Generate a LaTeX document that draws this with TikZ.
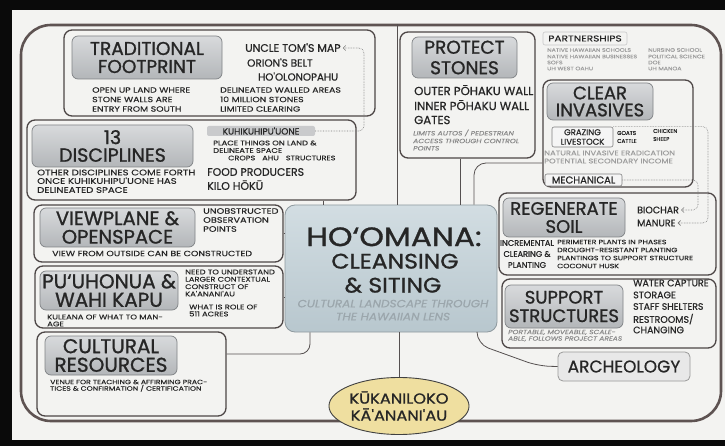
\documentclass[tikz,border=0pt]{standalone}
\usepackage{fontspec}
\setmainfont{Poppins}
\newfontfamily\fsm{Poppins}[FakeStretch=1.25, FakeBold=0.25]
\newfontfamily\fmd{Poppins}[FakeBold=0.7]
\newfontfamily\ftl{Poppins}[FakeBold=1.1]
\newfontfamily\fcn{Poppins}[FakeStretch=1.12, FakeBold=1.1]
\newfontfamily\fcnw{Poppins}[FakeStretch=1.18, FakeBold=1.1]
\newfontfamily\fsub{Poppins}[FakeStretch=1.15, FakeBold=0.5]
\usetikzlibrary{shapes.geometric,arrows.meta,calc}
\definecolor{bgblack}{HTML}{0A0A0A}
\definecolor{poster}{HTML}{F3F3F1}
\definecolor{framec}{HTML}{5E5352}
\definecolor{boxc}{HTML}{4D4646}
\definecolor{ink}{HTML}{262626}
\definecolor{ttltop}{HTML}{D8DADC}
\definecolor{ttlbot}{HTML}{B3B6B9}
\definecolor{ttlc}{HTML}{7F8285}
\definecolor{centop}{HTML}{D2DDE2}
\definecolor{cenbot}{HTML}{B8C7CE}
\definecolor{cenc}{HTML}{8E999E}
\definecolor{subtle}{HTML}{9BA6AC}
\definecolor{grayit}{HTML}{8A8A8A}
\definecolor{light}{HTML}{8C8C8C}
\definecolor{ellfill}{HTML}{EFDFA0}
\definecolor{conc}{HTML}{555050}
\definecolor{dotc}{HTML}{7A7A7A}
\definecolor{hlfill}{HTML}{C9CACC}
\newcommand\mkbox[7]{\node[#1, minimum width={(#5-#3)*1pt}, minimum height={(#6-#4)*1pt}] (#2) at ({(#3+#5)/2},{(#4+#6)/2}) {#7};}
\begin{document}
\begin{tikzpicture}[x=1pt,y=-1pt,
  frame/.style={draw=framec, line width=2.6pt, rounded corners=30pt},
  grp/.style={draw=boxc, line width=1.3pt, rounded corners=8pt, fill=poster},
  ttl/.style 2 args={draw=ttlc, line width=0.7pt, rounded corners=6pt, top color=ttltop, bottom color=ttlbot, align=center, text=ink, inner sep=0pt, font=\ftl\fontsize{#1}{#2}\selectfont},
  cbox/.style={draw=cenc, line width=0.8pt, rounded corners=10pt, top color=centop, bottom color=cenbot},
  lbl/.style={draw=black!22, line width=0.6pt, rounded corners=2pt, inner sep=0pt, text=ink, font=\fsm\fontsize{8.5}{9}\selectfont},
  sub/.style={draw=black!50, line width=0.6pt, rounded corners=2pt, inner sep=0pt, fill=white!96!black, align=center, text=ink, font=\fmd\fontsize{8.5}{9.5}\selectfont},
  hl/.style={fill=hlfill, rounded corners=2pt, inner sep=0pt, text=ink, font=\fmd\fontsize{9}{10}\selectfont},
  archbox/.style={draw=black!40, line width=0.8pt, rounded corners=5pt, fill=black!9, inner sep=0pt, text=ink, font=\fmd\fontsize{17}{18}\selectfont},
  tx/.style={inner sep=0pt, text depth=0pt, anchor=west, text=ink},
  md/.style={tx, font=\fmd\fontsize{#1}{#1}\selectfont, text height=0.7*#1pt},
  sm/.style={tx, font=\fsm\fontsize{#1}{#1}\selectfont, text height=0.7*#1pt},
  tn/.style={tx, font=\fmd\fontsize{#1}{#1}\selectfont, text height=0.7*#1pt},
  lt/.style={sm=#1, text=light!85},
  ism/.style={tx, font=\fsm\itshape\fontsize{#1}{#1}\selectfont, text height=0.7*#1pt, text=grayit},
  ctx/.style={inner sep=0pt, text depth=0pt, text height=0.72*#1pt},
  conn/.style={draw=conc, line width=0.8pt},
  dotarrow/.style={draw=dotc, line width=0.6pt, densely dotted, rounded corners=5pt, -{Straight Barb[length=2.5pt,width=5pt]}}
]
\useasboundingbox (0,0) rectangle (725,446);
\fill[bgblack] (0,0) rectangle (725,446);
\fill[poster] (12,10) rectangle (725,440);

% outer frame
\mkbox{frame}{frm}{21}{25}{721}{421}{}

% connector anchor coordinates
\coordinate (k1) at (323,0);
\coordinate (k2) at (397,0);
\coordinate (k3) at (460,0);
\coordinate (k4) at (474,0);
\coordinate (k4b) at (0,163);
\coordinate (k7) at (310,0);
\coordinate (k7b) at (0,354);
\coordinate (k9) at (477,0);
\coordinate (k9c) at (477,344);
\coordinate (k9d) at (538,366);
\coordinate (kd1) at (364,0);
\coordinate (kb) at (698,0);
\coordinate (km) at (708,0);

% groups
\mkbox{grp}{tf}{64}{30}{375}{116}{}
\mkbox{grp}{dis}{27}{120}{356}{200}{}
\mkbox{grp}{vp}{34}{205}{283}{262}{}
\mkbox{grp}{ph}{35}{266}{283}{328}{}
\mkbox{grp}{cr}{37}{332}{226}{416}{}
\mkbox{grp}{ps}{400}{32}{535}{158}{}
\mkbox{grp}{ci}{543}{80}{693}{187}{}
\mkbox{grp}{rs}{499}{193}{716}{275}{}
\mkbox{grp}{ss}{502}{279}{716}{348}{}
\mkbox{cbox}{cen}{285}{205}{497}{332}{}
\mkbox{archbox}{arc}{558}{352}{690}{381}{ARCHEOLOGY}

% connectors
\draw[conn] (k1 |- dis.south) -- (k1 |- cen.north);
\draw[conn] (k2 |- cen.north) -- (k2 |- frm.north);
\draw[conn] (k3 |- ps.south) -- (k3 |- cen.north);
\draw[conn, rounded corners=12pt] (k4 |- cen.north) |- (ci.west |- k4b);
\draw[conn] (vp.east) -- (cen.west |- vp.east);
\draw[conn] (ph.east) -- (cen.west |- ph.east);
\draw[conn, rounded corners=10pt] (k7 |- cen.south) |- (cr.east |- k7b);
\draw[conn, rounded corners=12pt] (k9 |- cen.south) -- (k9c) -- (k9d) -- (arc.west);

% ellipse
\node[ellipse, draw=black!75, line width=0.9pt, fill=ellfill, minimum width=118pt, minimum height=57pt, inner sep=0pt, align=center, text=ink, font=\fcn\fontsize{14.5}{17}\selectfont] (ell) at (399,406) {KŪKANILOKO\\KĀ'ANANI'AU};
\draw[conn] (ell.north) -- (ell.north |- cen.south);

% title boxes
\mkbox{ttl={18.5}{18}}{tfT}{72}{36}{222}{79}{TRADITIONAL\\FOOTPRINT}
\mkbox{ttl={19}{17.6}}{disT}{32}{125}{193}{167}{13\\DISCIPLINES}
\mkbox{ttl={19.5}{18.5}}{vpT}{40}{208}{195}{247}{VIEWPLANE \&\\OPENSPACE}
\mkbox{ttl={20}{18.5}}{phT}{40}{271}{178}{310}{PU‘UHONUA \&\\WAHI KAPU}
\mkbox{ttl={20}{18.6}}{crT}{45}{336}{177}{375}{CULTURAL\\RESOURCES}
\mkbox{ttl={18.5}{20.5}}{psT}{412}{37}{517}{78}{PROTECT\\STONES}
\mkbox{ttl={18}{17}}{ciT}{547}{83}{653}{120}{CLEAR\\INVASIVES}
\mkbox{ttl={18}{18}}{rsT}{503}{198}{625}{237}{REGENERATE\\SOIL}
\mkbox{ttl={18}{18.5}}{ssT}{505}{285}{623}{328}{SUPPORT\\STRUCTURES}
\mkbox{lbl}{part}{543}{32}{627}{45}{PARTNERSHIPS}
\mkbox{sub}{graz}{552}{127}{613}{147}{GRAZING\\LIVESTOCK}
\mkbox{sub}{mech}{545}{174}{622}{186}{\fontsize{10}{10}\selectfont MECHANICAL}
\mkbox{hl}{kuhi}{207}{126}{315}{136}{KUHIKUHIPU'UONE}

% traditional footprint texts
\node[md=11] (utm) at (245,48) {UNCLE TOM'S MAP};
\node[md=10.5] (orb) at (247,63) {ORION'S BELT};
\node[md=10.3] (hoo) at (258,77) {HO'OLONOPAHU};
\node[sm=7.5] (tf1) at (92,90) {OPEN UP LAND WHERE};
\node[sm=7.5] (tf2) at (92,99.5) {STONE WALLS ARE};
\node[sm=7.5] (tf3) at (92,109) {ENTRY FROM SOUTH};
\node[sm=7.5] (tf4) at (220,90) {DELINEATED WALLED AREAS};
\node[sm=7.5] (tf5) at (220,99.5) {10 MILLION STONES};
\node[sm=7.5] (tf6) at (220,109) {LIMITED CLEARING};

% disciplines texts
\node[sm=6.7] (d1) at (213,143) {PLACE THINGS ON LAND \&};
\node[sm=6.7] (d2) at (213,150.5) {DELINEATE SPACE};
\node[sm=6.5] (d3) at (228,158) {CROPS\hspace{7pt}AHU\hspace{7pt}STRUCTURES};
\node[md=10.9] (d4) at (207,172) {FOOD PRODUCERS};
\node[md=11] (d5) at (207,186) {KILO HŌKŪ};
\node[sm=8.1] (d6) at (37,172.5) {OTHER DISCIPLINES COME FORTH};
\node[sm=8.1] (d7) at (37,181) {ONCE KUHIKUHIPU'UONE HAS};
\node[sm=8.1] (d8) at (37,190) {DELINEATED SPACE};

% viewplane texts
\node[sm=7.8] (v1) at (203,211) {UNOBSTRUCTED};
\node[sm=7.8] (v2) at (203,220) {OBSERVATION};
\node[sm=7.8] (v3) at (203,229) {POINTS};
\node[sm=7.6] (v4) at (52,253.5) {VIEW FROM OUTSIDE CAN BE CONSTRUCTED};

% pu'uhonua texts
\node[sm=6.7] (p1) at (185,272) {NEED TO UNDERSTAND};
\node[sm=6.7] (p2) at (185,279.3) {LARGER CONTEXTUAL};
\node[sm=6.7] (p3) at (185,286.7) {CONSTRUCT OF};
\node[sm=6.7] (p4) at (185,294) {KA'ANANI'AU};
\node[sm=6.7] (p5) at (189,307) {WHAT IS ROLE OF};
\node[sm=6.7] (p6) at (189,314) {511 ACRES};
\node[sm=6.8] (p7) at (47,317) {KULEANA OF WHAT TO MAN-};
\node[sm=6.8] (p8) at (47,324) {AGE};

% cultural texts
\node[sm=6.2] (c1) at (50,382) {VENUE FOR TEACHING \& AFFIRMING PRAC-};
\node[sm=6.2] (c2) at (50,388.5) {TICES \& CONFIRMATION / CERTIFICATION};

% protect stones texts
\node[md=11.7] (s1) at (414,91) {OUTER PŌHAKU WALL};
\node[md=11.7] (s2) at (414,106) {INNER PŌHAKU WALL};
\node[md=11.7] (s3) at (414,120) {GATES};
\node[ism=6.1] (s4) at (413,133.3) {LIMITS AUTOS / PEDESTRIAN};
\node[ism=6.1] (s5) at (413,141) {ACCESS THROUGH CONTROL};
\node[ism=6.1] (s6n) at (413,148.3) {POINTS};

% partnerships
\node[lt=5] (pa1) at (547,50) {NATIVE HAWAIIAN SCHOOLS};
\node[lt=5] (pa2) at (547,56.5) {NATIVE HAWAIIAN BUSINESSES};
\node[lt=5] (pa3) at (547,62.5) {SOFS};
\node[lt=5] (pa4) at (547,68.5) {UH WEST OAHU};
\node[lt=5] (pa5) at (648,50) {NURSING SCHOOL};
\node[lt=5] (pa6) at (648,56.5) {POLITICAL SCIENCE};
\node[lt=5] (pa7) at (648,62.5) {DOE};
\node[lt=5] (pa8) at (648,68.5) {UH MANOA};

% clear invasives texts
\node[tn=5.6] (g1) at (617,133) {GOATS};
\node[tn=5.6] (g2) at (617,141) {CATTLE};
\node[tn=5.6] (g3) at (653,131) {CHICKEN};
\node[tn=5.6] (g4) at (653,139) {SHEEP};
\node[lt=6.7] (g5) at (544,153) {NATURAL INVASIVE ERADICATION};
\node[lt=6.7] (g6) at (544,161) {POTENTIAL SECONDARY INCOME};

% regenerate texts
\node[md=9.5] (bio) at (637,210) {BIOCHAR};
\node[md=9.5] (man) at (637,223) {MANURE};
\node[md=8.2, anchor=center] (r1) at (527,243) {INCREMENTAL};
\node[md=8.2, anchor=center] (r2) at (527,254) {CLEARING \&};
\node[md=8.2, anchor=center] (r3) at (527,265) {PLANTING};
\node[sm=6.3] (r4) at (557,242) {PERIMETER PLANTS IN PHASES};
\node[sm=6.3] (r5) at (557,250) {DROUGHT-RESISTANT PLANTING};
\node[sm=6.3] (r6) at (557,258) {PLANTINGS TO SUPPORT STRUCTURE};
\node[sm=6.3] (r7) at (557,266) {COCONUT HUSK};

% support texts
\node[md=9.5] (u1) at (633,283) {WATER CAPTURE};
\node[md=9.5] (u2) at (633,295) {STORAGE};
\node[md=9.3] (u3) at (633,306.5) {STAFF SHELTERS};
\node[md=9.5] (u4) at (633,319.5) {RESTROOMS/};
\node[md=9.5] (u5) at (633,330) {CHANGING};
\node[ism=6.0] (u6) at (508,332) {PORTABLE, MOVEABLE, SCALE-};
\node[ism=6.0] (u7) at (508,338.5) {ABLE, FOLLOWS PROJECT AREAS};

% central texts
\node[ctx=26.5, text=ink, font=\fcnw\fontsize{26.5}{27}\selectfont] (h1) at (394,236.5) {HO‘OMANA:};
\node[ctx=21, text=ink, font=\fcn\fontsize{21}{21}\selectfont] (h2) at (395,261) {CLEANSING};
\node[ctx=21, text=ink, font=\fcn\fontsize{21}{21}\selectfont] (h3) at (393,285) {\& SITING};
\node[ctx=10.5, text=subtle, font=\fsub\itshape\fontsize{10.5}{11}\selectfont] (h4) at (393,303.5) {CULTURAL LANDSCAPE THROUGH};
\node[ctx=10.5, text=subtle, font=\fsub\itshape\fontsize{10.5}{11}\selectfont] (h5) at (393,316.5) {THE HAWAIIAN LENS};

% dotted arrows
\draw[dotarrow] (kuhi.east) -- (kd1 |- kuhi.east) |- ($(utm.east)+(2,0)$);
\draw[dotarrow] (mech.east) -- (kb |- mech.east) |- ($(bio.east)+(2,0)$);
\draw[dotarrow] (graz.north east) -- (km |- graz.north east) |- ($(man.east)+(2,0)$);
\end{tikzpicture}
\end{document}
